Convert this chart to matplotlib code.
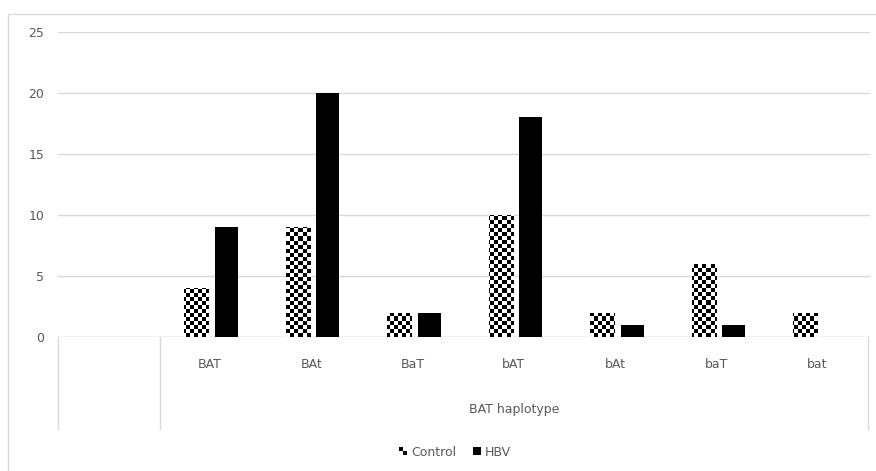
import numpy as np
import matplotlib
matplotlib.use("Agg")
from matplotlib import pyplot as plt
from matplotlib.patches import Rectangle
from matplotlib.lines import Line2D
from matplotlib.legend_handler import HandlerBase

# data
categories = ["", "BAT", "BAt", "BaT", "bAT", "bAt", "baT", "bat"]
control = [0, 4, 9, 2, 10, 2, 6, 2]
hbv = [0, 9, 20, 2, 18, 1, 1, 0]
group_label = "BAT haplotype"
yticks = [0, 5, 10, 15, 20, 25]

W, H = 876, 471
GRAY_TXT = "#595959"
GRID = "#d9d9d9"


def fx(px):
    return px / W


def fy(py):
    return 1 - py / H


class CheckerHandler(HandlerBase):
    def create_artists(self, legend, orig_handle, xdescent, ydescent,
                       width, height, fontsize, trans):
        s = height * 0.45
        x0 = width - 2 * s
        y0 = (height - 2 * s) / 2
        a = Rectangle((x0, y0 + s), s, s, facecolor="black", transform=trans)
        b = Rectangle((x0 + s, y0), s, s, facecolor="black", transform=trans)
        return [a, b]


class SquareHandler(HandlerBase):
    def create_artists(self, legend, orig_handle, xdescent, ydescent,
                       width, height, fontsize, trans):
        s = height * 0.9
        r = Rectangle((width - s, (height - s) / 2), s, s,
                      facecolor="black", transform=trans)
        return [r]


def main():
    fig = plt.figure(figsize=(W / 100, H / 100), dpi=100)
    ax = fig.add_axes([fx(58), fy(337), fx(870) - fx(58), fy(32) - fy(337)])

    x = np.arange(len(categories))
    ctrl_bars = ax.bar(x - 0.135, control, 0.24, color="none", zorder=3)
    ax.bar(x + 0.157, hbv, 0.23, color="black", zorder=3)

    # checkerboard fill for control bars
    cell = 4
    nx = int((870 - 58) / cell)
    ny = int((337 - 32) / cell)
    ii, jj = np.meshgrid(np.arange(nx), np.arange(ny))
    checker = ((ii + jj) % 2).astype(float)
    for bar in ctrl_bars:
        im = ax.imshow(checker, cmap="gray", interpolation="nearest",
                       extent=(-0.5, len(categories) - 0.5, 0, 25),
                       aspect="auto", origin="lower", zorder=3)
        im.set_clip_path(bar)
    ax.set_xlim(-0.5, len(categories) - 0.5)
    ax.set_ylim(0, 25)

    ax.set_yticks(yticks)
    ax.set_yticklabels([str(v) for v in yticks], color=GRAY_TXT, fontsize=9)
    ax.tick_params(axis="y", length=0, pad=10)
    ax.set_xticks([])
    ax.yaxis.grid(True, color=GRID, linewidth=1)
    ax.set_axisbelow(True)
    for s in ax.spines.values():
        s.set_visible(False)
    ax.axhline(0, color=GRID, linewidth=1, zorder=2)

    # category table under the axis
    for px in [58, 160, 868]:
        fig.add_artist(Line2D([fx(px), fx(px)], [fy(337), fy(429)],
                              color=GRID, linewidth=1))
    cat_w = (868 - 58) / len(categories)
    for i, c in enumerate(categories):
        fig.text(fx(58 + cat_w * (i + 0.5)), fy(365), c, ha="center",
                 va="center", color=GRAY_TXT, fontsize=9)
    fig.text(fx((160 + 868) / 2), fy(410), group_label, ha="center",
             va="center", color=GRAY_TXT, fontsize=9)

    # outer frame (bottom and right run off the image)
    fig.add_artist(Rectangle((fx(8), fy(475)), fx(880) - fx(8),
                             fy(14) - fy(475), fill=False,
                             edgecolor=GRID, linewidth=1))

    h1 = Rectangle((0, 0), 1, 1)
    h2 = Rectangle((0, 0), 1, 1)
    leg = fig.legend([h1, h2], ["Control", "HBV"], loc="center",
                     bbox_to_anchor=(fx(454), fy(452)), ncol=2, frameon=False,
                     fontsize=9, handlelength=0.8, handletextpad=0.3,
                     columnspacing=1.2,
                     handler_map={h1: CheckerHandler(), h2: SquareHandler()})
    for t in leg.get_texts():
        t.set_color(GRAY_TXT)

    fig.savefig("out.png", dpi=100)


if __name__ == "__main__":
    main()
